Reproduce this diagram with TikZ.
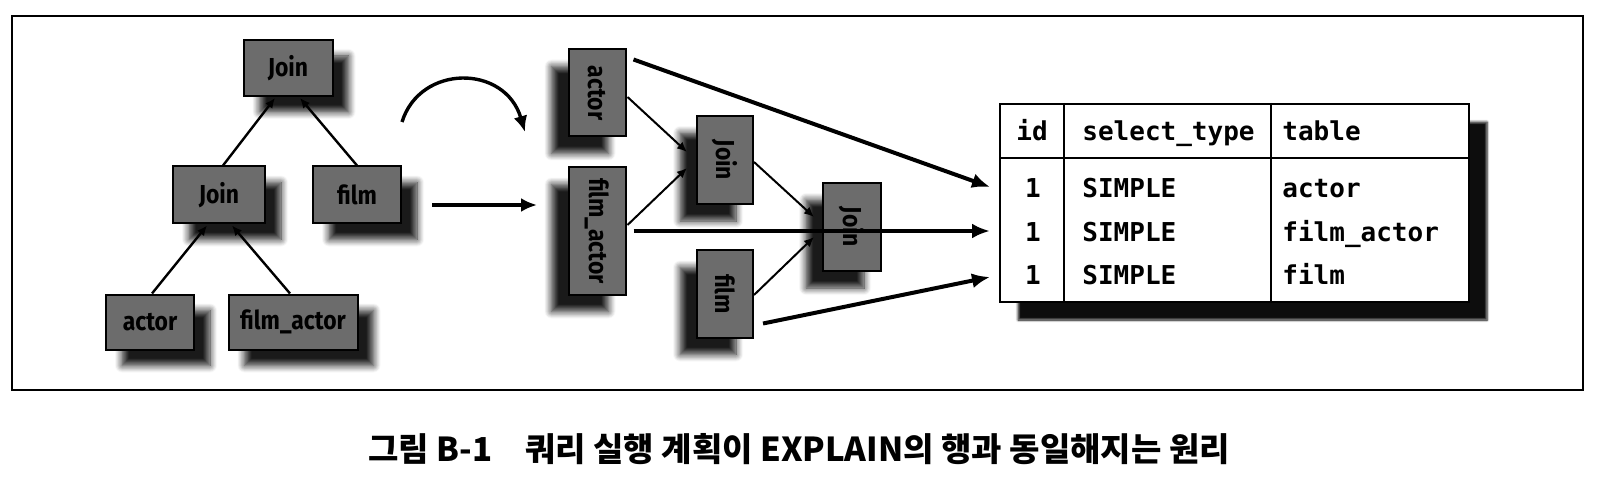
\documentclass[tikz,border=0pt]{standalone}
\usepackage{fontspec}
\setmainfont{Fira Sans}
\newfontfamily\opfont[FakeStretch=0.88]{Fira Sans}
\newfontfamily\cellfont{DejaVu Sans Mono}
\newfontfamily\krfont{Noto Sans CJK KR}
\usepackage{tikz}
\usetikzlibrary{calc}
\usetikzlibrary{arrows.meta}
\usetikzlibrary{shadows.blur}

\definecolor{opgray}{RGB}{108,108,108}

\tikzset{
  opbase/.style={draw=black, line width=1pt, fill=opgray, inner sep=0pt,
    font=\opfont\bfseries\fontsize{13}{13}\selectfont},
  opbox/.style={opbase, blur shadow={shadow xshift=8pt, shadow yshift=-8pt,
    shadow blur radius=3.5pt, shadow blur steps=8, shadow opacity=90}},
  opvbox/.style={opbase, blur shadow={shadow xshift=-8.5pt, shadow yshift=-8.5pt,
    shadow blur radius=3.5pt, shadow blur steps=8, shadow opacity=90}},
  cell/.style={font=\cellfont\bfseries\fontsize{13}{13}\selectfont, inner sep=0pt},
  treearrow/.style={line width=1.2pt, -{Latex[length=5pt,width=4.5pt]}},
  planarrow/.style={line width=1pt, -{Latex[length=5pt,width=4.5pt]}},
  rowarrow/.style={line width=2pt, -{Latex[length=9pt,width=7.5pt]}},
}

\begin{document}
\begin{tikzpicture}[x=0.5pt, y=-0.5pt]
\useasboundingbox (0,0) rectangle (1600,502);

% --- outer frame ---
\draw[line width=0.8pt] (12,16) rectangle (1583,390);

% --- TREE (left) ---
\node[opbox, minimum width=44.5pt, minimum height=28pt] (joinTop) at (288,68) {Join};
\node[opbox, minimum width=46pt, minimum height=28.5pt] (joinMid) at (219,195) {Join};
\node[opbox, minimum width=44pt, minimum height=28.5pt] (filmL) at (357,195) {film};
\node[opbox, minimum width=44pt, minimum height=27.5pt] (actorL) at (150,322) {actor};
\node[opbox, minimum width=64.5pt, minimum height=27.5pt] (filmactorL) at (293,322) {film\_actor};

\draw[treearrow] ($(joinMid.north)+(4,0)$) -- ($(joinTop.south)+(-13,1)$);
\draw[treearrow] (filmL.north) -- ($(joinTop.south)+(12,1)$);
\draw[treearrow] ($(actorL.north)+(2,0)$) -- ($(joinMid.south)+(-12,1)$);
\draw[treearrow] ($(filmactorL.north)+(-3,0)$) -- ($(joinMid.south)+(13,1)$);

% rotate + flatten arrows
\coordinate (bendA) at (402,122);
\coordinate (bendB) at (525,132);
\draw[line width=1.7pt, -{Latex[length=8pt,width=7pt]}] (bendA) .. controls (420,64) and (505,64) .. (bendB);
\coordinate (flowA) at (432,205);
\coordinate (flowB) at (537,205);
\draw[line width=1.7pt, -{Latex[length=8pt,width=7pt]}] (flowA) -- (flowB);

% --- PLAN (middle, turned) ---
\node[opvbox, minimum width=28.5pt, minimum height=43.5pt] (actorM) at (597,93) {\rotatebox{-90}{actor}};
\node[opvbox, minimum width=28.5pt, minimum height=63.5pt] (filmactorM) at (597,231) {\rotatebox{-90}{film\_actor}};
\node[opvbox, minimum width=28pt, minimum height=44pt] (joinA) at (725,160) {\rotatebox{-90}{Join}};
\node[opvbox, minimum width=28pt, minimum height=43.5pt] (filmM) at (725,294) {\rotatebox{-90}{film}};
\node[opvbox, minimum width=29pt, minimum height=44pt] (joinB) at (852,227) {\rotatebox{-90}{Join}};

\draw[planarrow] ($(actorM.east)+(1,4)$) -- ($(joinA.west)+(-9,-8)$);
\draw[planarrow] ($(filmactorM.east)+(1,-6)$) -- ($(joinA.west)+(-9,8)$);
\draw[planarrow] ($(joinA.east)+(0,2)$) -- ($(joinB.west)+(-8,-10)$);
\draw[planarrow] ($(filmM.east)+(0,1)$) -- ($(joinB.west)+(-8,10)$);

% --- EXPLAIN table (right) ---
\node[draw=black, line width=1pt, fill=white, minimum width=234.5pt, minimum height=99pt,
  blur shadow={shadow xshift=9pt, shadow yshift=-9pt, shadow blur radius=1.2pt,
  shadow blur steps=6, shadow opacity=95}] (tbl) at (1234.5,203) {};
\draw[line width=1pt] ($(tbl.north west)+(0,55)$) -- ($(tbl.north east)+(0,55)$);
\draw[line width=1pt] ($(tbl.north west)+(65,0)$) -- ($(tbl.south west)+(65,0)$);
\draw[line width=1pt] ($(tbl.north west)+(272,0)$) -- ($(tbl.south west)+(272,0)$);

\node[cell, anchor=base] (hId) at (1032,141) {id};
\node[cell, anchor=base west] (hType) at (1082,141) {select\_type};
\node[cell, anchor=base west] (hTable) at (1282,141) {table};
\foreach \r/\y/\t in {1/198/actor, 2/242/film\_actor, 3/285/film} {
  \node[cell, anchor=base] (id\r) at (1033,\y) {1};
  \node[cell, anchor=base west] (type\r) at (1082,\y) {SIMPLE};
  \node[cell, anchor=base west] (tab\r) at (1282,\y) {\t};
}

\coordinate (row1in) at (990,187);
\coordinate (row2in) at (990,231);
\coordinate (row3in) at (990,277);
\draw[rowarrow] ($(actorM.north east)+(7,11)$) -- (row1in);
\draw[rowarrow] ($(filmactorM.east)+(7,0)$) -- (row2in);
\draw[rowarrow] ($(filmM.south east)+(9,-15)$) -- (row3in);

% --- caption ---
\node[font=\krfont\bfseries\fontsize{16.5}{16.5}\selectfont] (caption) at (799,449)
  {그림 B-1\quad 쿼리 실행 계획이 EXPLAIN의 행과 동일해지는 원리};

\end{tikzpicture}
\end{document}
